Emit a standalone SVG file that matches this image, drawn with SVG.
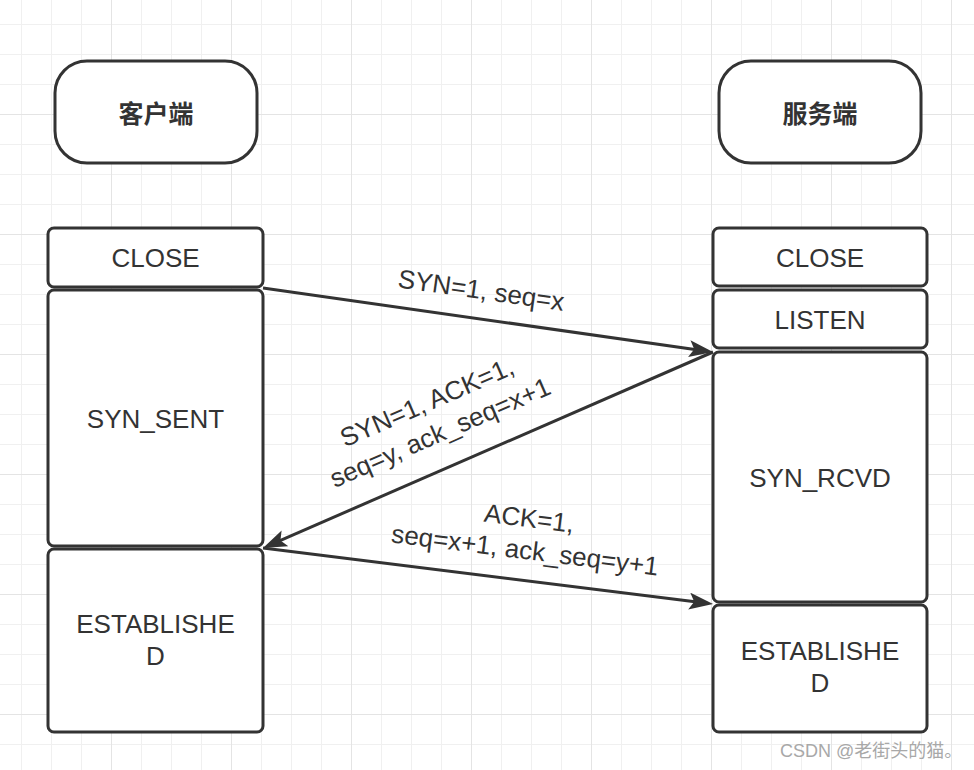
<svg xmlns="http://www.w3.org/2000/svg" width="974" height="770" viewBox="0 0 974 770">
  <defs>
    <pattern id="grid" patternUnits="userSpaceOnUse" x="111" y="114" width="120" height="120">
      <rect width="120" height="120" fill="#ffffff"/>
      <rect x="30" y="0" width="1" height="120" fill="#f0f0f0"/>
      <rect x="60" y="0" width="1" height="120" fill="#f0f0f0"/>
      <rect x="90" y="0" width="1" height="120" fill="#f0f0f0"/>
      <rect x="0" y="30" width="120" height="1" fill="#f0f0f0"/>
      <rect x="0" y="60" width="120" height="1" fill="#f0f0f0"/>
      <rect x="0" y="90" width="120" height="1" fill="#f0f0f0"/>
      <rect x="0" y="0" width="1" height="120" fill="#e4e4e4"/>
      <rect x="0" y="0" width="120" height="1" fill="#e4e4e4"/>
    </pattern>
    <marker id="arrow" markerUnits="userSpaceOnUse" markerWidth="26" markerHeight="18" refX="18" refY="8.5" orient="auto">
      <path d="M0,0 L24,8.5 L0,17 L5,8.5 z" fill="#333333"/>
    </marker>
  </defs>
  <style>
    .box { fill: #ffffff; stroke: #333333; stroke-width: 3; }
    .lbl { font-family: "Liberation Sans", Arial, sans-serif; font-size: 26px; fill: #333333; text-anchor: middle; }
    .cjk { font-family: "Noto Sans CJK SC", sans-serif; font-size: 25px; font-weight: bold; fill: #333333; text-anchor: middle; dominant-baseline: central; }
    .edge { fill: none; stroke: #333333; stroke-width: 3; marker-end: url(#arrow); }
    .wm { font-family: "Liberation Sans", "Noto Sans CJK SC", sans-serif; font-size: 18px; fill: #a8a8a8; }
  </style>
  <rect x="0" y="0" width="974" height="770" fill="url(#grid)"/>

  <g id="client">
    <rect class="box" x="55" y="61" width="202" height="102" rx="32" ry="32"/>
    <text class="cjk" x="156" y="112">客户端</text>
  </g>
  <g id="server">
    <rect class="box" x="719" y="61" width="202" height="102" rx="32" ry="32"/>
    <text class="cjk" x="820" y="112">服务端</text>
  </g>

  <g id="c-close">
    <rect class="box" x="48" y="228" width="215" height="59" rx="6"/>
    <text class="lbl" x="155.5" y="267">CLOSE</text>
  </g>
  <g id="c-synsent">
    <rect class="box" x="48" y="290" width="215" height="256" rx="6"/>
    <text class="lbl" x="155.5" y="428">SYN_SENT</text>
  </g>
  <g id="c-established">
    <rect class="box" x="48" y="549" width="215" height="183" rx="6"/>
    <text class="lbl" x="155.5" y="633">ESTABLISHE</text>
    <text class="lbl" x="155.5" y="665">D</text>
  </g>

  <g id="s-close">
    <rect class="box" x="713" y="228" width="214" height="58" rx="6"/>
    <text class="lbl" x="820" y="267">CLOSE</text>
  </g>
  <g id="s-listen">
    <rect class="box" x="713" y="290" width="214" height="58" rx="6"/>
    <text class="lbl" x="820" y="329">LISTEN</text>
  </g>
  <g id="s-synrcvd">
    <rect class="box" x="713" y="352" width="214" height="250" rx="6"/>
    <text class="lbl" x="820" y="487">SYN_RCVD</text>
  </g>
  <g id="s-established">
    <rect class="box" x="713" y="605" width="214" height="127" rx="6"/>
    <text class="lbl" x="820" y="660">ESTABLISHE</text>
    <text class="lbl" x="820" y="692">D</text>
  </g>

  <g id="connectors">
    <path class="edge" d="M263,288 L707.1,351.2"/>
    <path class="edge" d="M713,352 L268.5,545.6"/>
    <path class="edge" d="M263,548 L707.1,603.3"/>
    <g transform="translate(480,299) rotate(8.1)">
      <text class="lbl" x="0" y="0">SYN=1, seq=x</text>
    </g>
    <g transform="translate(437,425.5) rotate(-23.5)">
      <text class="lbl" x="0" y="-16.5">SYN=1, ACK=1,</text>
      <text class="lbl" x="0" y="16.5">seq=y, ack_seq=x+1</text>
    </g>
    <g transform="translate(526,543) rotate(7.1)">
      <text class="lbl" x="0" y="-16">ACK=1,</text>
      <text class="lbl" x="0" y="16">seq=x+1, ack_seq=y+1</text>
    </g>
  </g>

  <text class="wm" x="780" y="757">CSDN @老街头的猫。</text>
</svg>
